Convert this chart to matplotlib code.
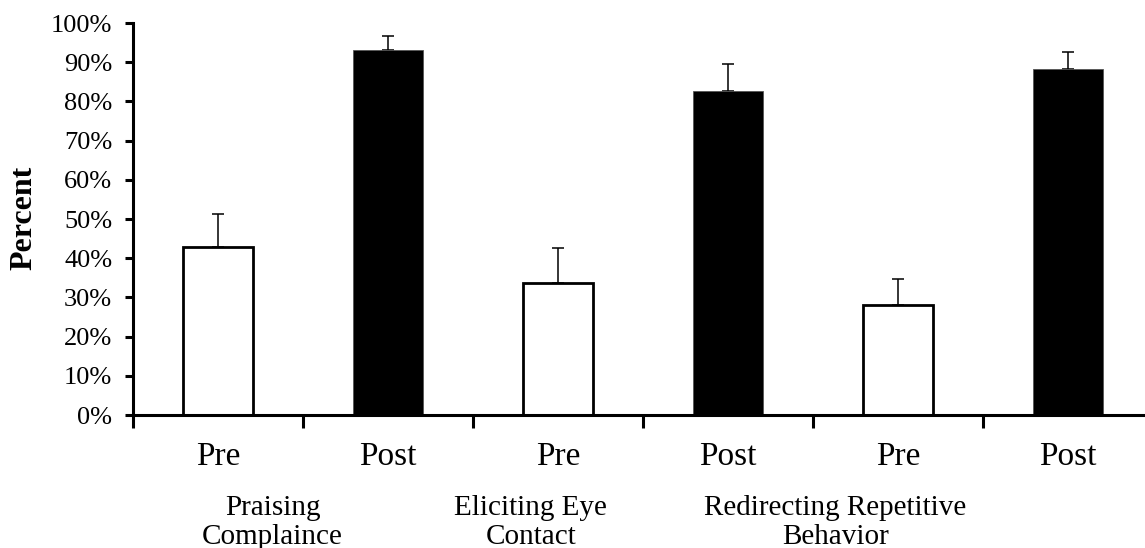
import numpy as np
import matplotlib.pyplot as plt
from matplotlib.ticker import FuncFormatter

##  data
phase = ['Pre', 'Post', 'Pre', 'Post', 'Pre', 'Post']
percent = [42.9, 93.0, 33.8, 82.6, 28.1, 88.2]
err_up = [8.5, 3.6, 8.9, 6.9, 6.7, 4.5]
groups = ['Praising\nComplaince', 'Eliciting Eye\nContact', 'Redirecting Repetitive\nBehavior']
group_x = [0.82, 2.34, 4.13]
yticks = np.arange(0, 101, 10)

plt.rcParams['font.family'] = ['Liberation Serif', 'DejaVu Serif']
plt.rcParams['font.size'] = 19

fig = plt.figure(figsize=(11.45, 5.48), dpi=100)
ax = fig.add_axes([0.1162, 0.2427, 0.8910, 0.7153])

x = np.arange(len(phase)) + 0.5
fills = ['white' if p == 'Pre' else 'black' for p in phase]
edges = ['black' if p == 'Pre' else '#555555' for p in phase]
widths = [2.0 if p == 'Pre' else 0.6 for p in phase]
ax.bar(x, percent, width=0.41, color=fills, edgecolor=edges, linewidth=widths, zorder=2)
ax.errorbar(x, percent, yerr=[np.zeros(len(err_up)), err_up], fmt='none',
            ecolor='black', elinewidth=1.1, capsize=4.3, capthick=1.1, zorder=1)

ax.set_xlim(0, 6)
ax.set_ylim(0, 100)
ax.set_yticks(yticks)
ax.yaxis.set_major_formatter(FuncFormatter(lambda v, pos: '%d%%' % v))

# boundary ticks carry the marks, centre ticks carry the labels
ax.set_xticks(np.arange(0, 7))
ax.set_xticklabels([])
ax.set_xticks(x, minor=True)
ax.set_xticklabels(phase, minor=True, fontsize=24)
ax.tick_params(axis='x', which='major', direction='out', length=9, width=2.2)
ax.tick_params(axis='x', which='minor', length=0, pad=19)
ax.tick_params(axis='y', direction='out', length=6, width=2.2, pad=9)

for s in ['top', 'right']:
    ax.spines[s].set_visible(False)
for s in ['left', 'bottom']:
    ax.spines[s].set_linewidth(2.2)

for gx, g in zip(group_x, groups):
    ax.text(gx, -20.5, g, ha='center', va='top', linespacing=1.15, fontsize=21,
            transform=ax.transData)

fig.text(24 / 1145, 1 - 218 / 548, 'Percent', rotation=90, ha='center', va='center',
         fontweight='bold', fontsize=23)

fig.savefig('out.png', dpi=100)
plt.close(fig)
